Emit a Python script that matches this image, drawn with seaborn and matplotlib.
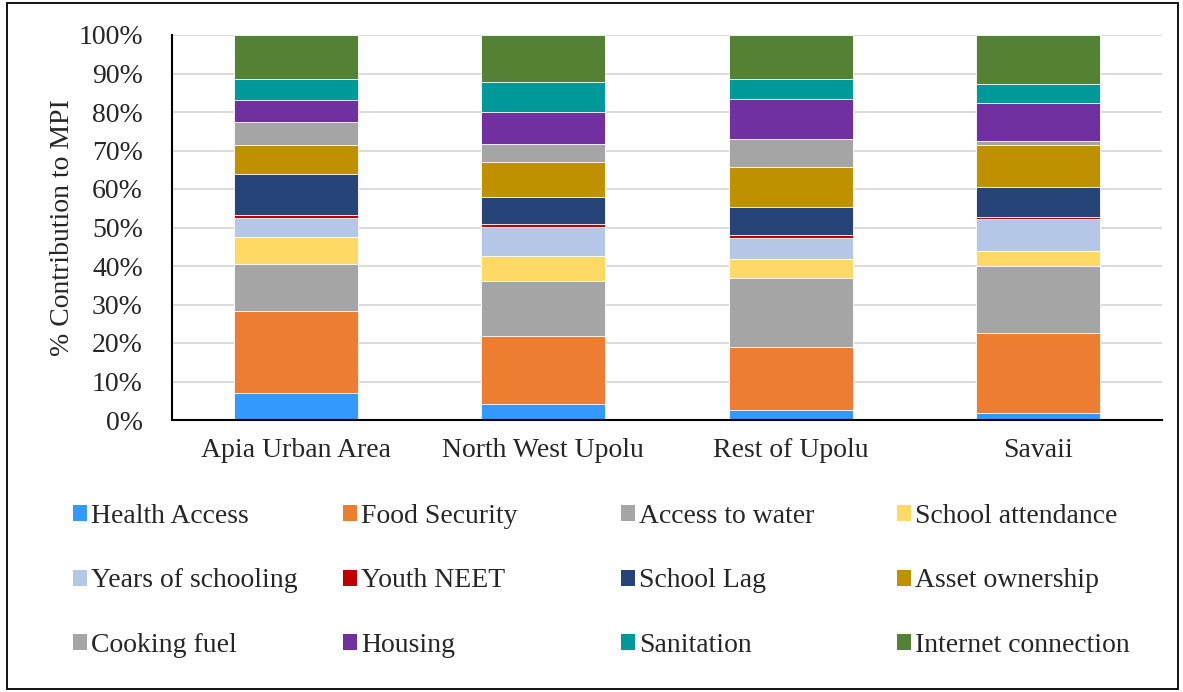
import numpy as np
import pandas as pd
import matplotlib
matplotlib.use("Agg")
import matplotlib.pyplot as plt
from matplotlib.patches import Rectangle
import seaborn as sns

# Data (% contribution to MPI)
regions = ["Apia Urban Area", "North West Upolu", "Rest of Upolu", "Savaii"]
indicators = ["Health Access", "Food Security", "Access to water", "School attendance",
              "Years of schooling", "Youth NEET", "School Lag", "Asset ownership",
              "Cooking fuel", "Housing", "Sanitation", "Internet connection"]

health_access = [7.1, 4.2, 2.5, 1.7]
food_security = [21.2, 17.7, 16.4, 21.0]
access_to_water = [12.1, 14.2, 17.9, 17.4]
school_attendance = [7.2, 6.6, 4.9, 3.7]
years_of_schooling = [4.9, 7.3, 5.7, 8.5]
youth_neet = [0.7, 0.8, 0.7, 0.4]
school_lag = [10.6, 7.2, 7.3, 7.7]
asset_ownership = [7.5, 8.9, 10.2, 10.9]
cooking_fuel = [6.2, 4.8, 7.5, 1.2]
housing = [5.5, 8.4, 10.2, 9.9]
sanitation = [5.6, 7.6, 5.2, 5.0]
internet_connection = [11.4, 12.3, 11.5, 12.6]

colors = ["#3399FF", "#ED7D31", "#A5A5A5", "#FFD966", "#B4C7E7", "#C00000",
          "#264478", "#BF9000", "#A5A5A5", "#7030A0", "#009999", "#548235"]

series = [health_access, food_security, access_to_water, school_attendance,
          years_of_schooling, youth_neet, school_lag, asset_ownership,
          cooking_fuel, housing, sanitation, internet_connection]

df = pd.DataFrame(np.array(series).T, index=regions, columns=indicators)
df = df.div(df.sum(axis=1), axis=0) * 100  # normalise to 100 %
cum = df.cumsum(axis=1)

sns.set_theme(style="white")
plt.rcParams["font.family"] = ["Liberation Serif", "DejaVu Serif"]
FS = 20

fig = plt.figure(figsize=(11.83, 6.92), dpi=100)
ax = fig.add_axes([172 / 1183, 1 - 420 / 692, 990 / 1183, 385 / 692])

# stacked bars: draw cumulative totals from the top layer down
for ind, col in reversed(list(zip(indicators, colors))):
    layer = pd.DataFrame({"region": regions, "value": cum[ind].values})
    sns.barplot(data=layer, x="region", y="value", order=regions, color=col,
                width=0.5, edgecolor="white", linewidth=0.6, saturation=1, ax=ax)

ax.set_ylim(0, 100)
ax.set_xlim(-0.5, 3.5)
ax.set_yticks(range(0, 101, 10))
ax.set_yticklabels([f"{v}%" for v in range(0, 101, 10)])
ax.set_xlabel("")
ax.set_ylabel("% Contribution to MPI", fontsize=FS)
ax.yaxis.set_label_coords(-0.098, 0.5)
ax.tick_params(axis="y", length=0, pad=21, labelsize=FS)
ax.tick_params(axis="x", length=0, pad=13, labelsize=FS)

ax.set_axisbelow(True)
ax.yaxis.grid(True, color="#D9D9D9", linewidth=1.3)
ax.xaxis.grid(False)
for s in ["top", "right"]:
    ax.spines[s].set_visible(False)
for s in ["left", "bottom"]:
    ax.spines[s].set_color("black")
    ax.spines[s].set_linewidth(1.5)

# legend: 4 columns x 3 rows, filled row by row
col_x = [73, 343, 621, 897]
for c in range(4):
    idx = [c, c + 4, c + 8]
    handles = [Rectangle((0, 0), 1, 1, facecolor=colors[i], edgecolor="none") for i in idx]
    fig.legend(handles, [indicators[i] for i in idx], loc="upper left",
               bbox_to_anchor=(col_x[c] / 1183, 1 - 504 / 692),
               frameon=False, fontsize=FS, borderpad=0, borderaxespad=0,
               handlelength=0.5, handleheight=0.5, handletextpad=0.15,
               labelspacing=1.42)

# outer border
fig.patches.append(Rectangle((0.006, 0.005), 0.99, 0.99, transform=fig.transFigure,
                             fill=False, edgecolor="black", linewidth=1.3))

fig.savefig("out.png", dpi=100)
